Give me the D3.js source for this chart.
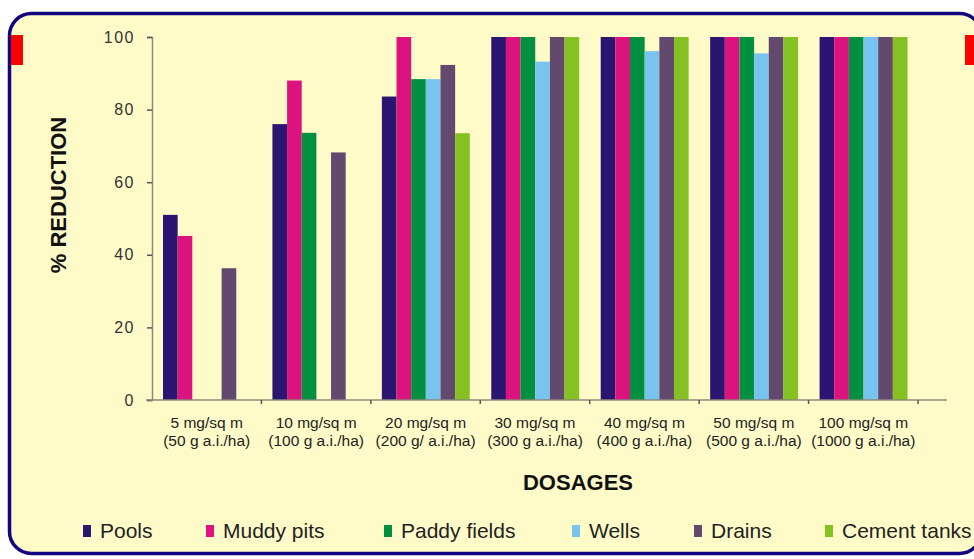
<!DOCTYPE html>
<html>
<head>
<meta charset="utf-8">
<script src="https://cdn.jsdelivr.net/npm/d3@7"></script>
<style>
  body { margin: 0; background: #fff; }
  svg { display: block; font-family: "Liberation Sans", Arial, sans-serif; }
</style>
</head>
<body>
<svg width="974" height="559"></svg>
<script>
'use strict';

// dosage categories (two text lines each)
const dosages = [
    ["5 mg/sq m", "(50 g a.i./ha)"],
    ["10 mg/sq m", "(100 g a.i./ha)"],
    ["20 mg/sq m", "(200 g/ a.i./ha)"],
    ["30 mg/sq m", "(300 g a.i./ha)"],
    ["40 mg/sq m", "(400 g a.i./ha)"],
    ["50 mg/sq m", "(500 g a.i./ha)"],
    ["100 mg/sq m", "(1000 g a.i./ha)"]
];

const habitats = ["Pools", "Muddy pits", "Paddy fields", "Wells", "Drains", "Cement tanks"];

// % reduction per habitat, one value per dosage (null = no bar)
const pools       = [51, 76, 83.6, 100, 100, 100, 100];
const muddyPits   = [45.2, 88, 100, 100, 100, 100, 100];
const paddyFields = [null, 73.6, 88.4, 100, 100, 100, 100];
const wells       = [null, null, 88.4, 93.2, 96.1, 95.5, 100];
const drains      = [36.3, 68.2, 92.3, 100, 100, 100, 100];
const cementTanks = [null, null, 73.5, 100, 100, 100, 100];

const yTicks = [0, 20, 40, 60, 80, 100];

const series = [pools, muddyPits, paddyFields, wells, drains, cementTanks];
const colors = ["#2a1570", "#dc137e", "#00903f", "#79c4ee", "#64496f", "#86c124"];

const svg = d3.select("svg");

// frame
svg.append("rect")
    .attr("x", 9.5).attr("y", 13.5)
    .attr("width", 972).attr("height", 540)
    .attr("rx", 22)
    .attr("fill", "#fffbc8")
    .attr("stroke", "#12047f")
    .attr("stroke-width", 3.5);

svg.append("rect").attr("x", 11).attr("y", 35).attr("width", 12).attr("height", 30).attr("fill", "#ff0000");
svg.append("rect").attr("x", 965).attr("y", 35).attr("width", 12).attr("height", 30).attr("fill", "#ff0000");

const x0 = d3.scaleBand()
    .domain(d3.range(dosages.length))
    .range([152, 918]);

const x1 = d3.scaleBand()
    .domain(d3.range(habitats.length))
    .range([11, x0.bandwidth() - 10.5]);

const y = d3.scaleLinear()
    .domain([0, 100])
    .range([400, 37]);

const color = d3.scaleOrdinal()
    .domain(d3.range(habitats.length))
    .range(colors);

// bars
const bars = [];
series.forEach((vals, s) => vals.forEach((v, i) => {
    if (v != null) bars.push({ s: s, i: i, v: v });
}));

svg.append("g")
    .selectAll("rect")
    .data(bars)
    .enter().append("rect")
    .attr("x", d => x0(d.i) + x1(d.s))
    .attr("width", x1.bandwidth())
    .attr("y", d => y(d.v))
    .attr("height", d => y(0) - y(d.v))
    .attr("fill", d => color(d.s));

// y axis
const axisColor = "#8a8a7a";
const yAxis = svg.append("g")
    .attr("transform", "translate(152,0)")
    .call(d3.axisLeft(y).tickValues(yTicks).tickSize(5).tickPadding(12));
yAxis.select(".domain").attr("stroke", axisColor).attr("stroke-width", 1.5);
yAxis.selectAll(".tick line").attr("stroke", "#555").attr("stroke-width", 1.5);
yAxis.selectAll(".tick text")
    .attr("font-size", 16)
    .attr("letter-spacing", 1.5)
    .attr("fill", "#333")
    .attr("font-family", "Liberation Sans, Arial, sans-serif");

// x axis line and ticks
svg.append("line")
    .attr("x1", 146).attr("x2", 947)
    .attr("y1", y(0)).attr("y2", y(0))
    .attr("stroke", axisColor).attr("stroke-width", 1.5);

svg.append("g")
    .selectAll("line")
    .data(d3.range(1, dosages.length + 1))
    .enter().append("line")
    .attr("x1", d => x0.range()[0] + d * x0.step())
    .attr("x2", d => x0.range()[0] + d * x0.step())
    .attr("y1", y(0)).attr("y2", y(0) + 4)
    .attr("stroke", "#555").attr("stroke-width", 1.5);

// category labels
const catLabel = svg.append("g")
    .selectAll("text")
    .data(dosages)
    .enter().append("text")
    .attr("text-anchor", "middle")
    .attr("font-size", 15.5)
    .attr("fill", "#222");

catLabel.append("tspan")
    .attr("x", (d, i) => x0(i) + x0.bandwidth() / 2)
    .attr("y", 428)
    .text(d => d[0]);
catLabel.append("tspan")
    .attr("x", (d, i) => x0(i) + x0.bandwidth() / 2)
    .attr("y", 446)
    .text(d => d[1]);

// axis titles
svg.append("text")
    .attr("x", 578).attr("y", 490)
    .attr("text-anchor", "middle")
    .attr("font-size", 22).attr("font-weight", "bold")
    .attr("fill", "#111")
    .text("DOSAGES");

svg.append("text")
    .attr("transform", "translate(66,195) rotate(-90)")
    .attr("text-anchor", "middle")
    .attr("font-size", 22).attr("font-weight", "bold")
    .attr("fill", "#111")
    .text("% REDUCTION");

// legend
const legendX = [83, 206, 384, 572, 694, 825];
const legend = svg.append("g")
    .selectAll("g")
    .data(habitats)
    .enter().append("g")
    .attr("transform", (d, i) => `translate(${legendX[i]},525)`);

legend.append("rect")
    .attr("width", 8).attr("height", 12)
    .attr("fill", (d, i) => color(i));

legend.append("text")
    .attr("x", 17).attr("y", 13)
    .attr("font-size", 21)
    .attr("fill", "#222")
    .text(d => d);
</script>
</body>
</html>
